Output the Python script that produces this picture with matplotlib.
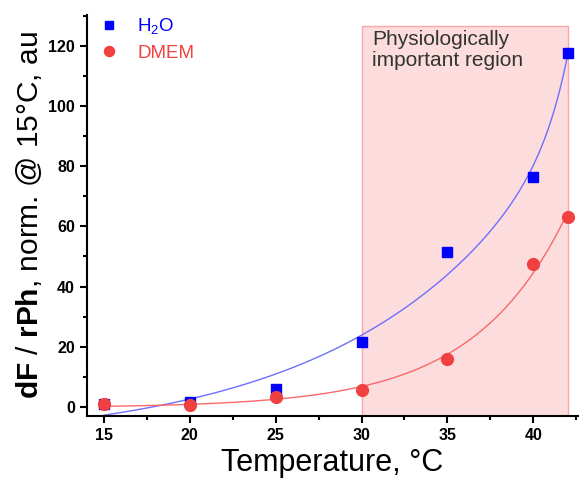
import numpy as np
import matplotlib
matplotlib.use('Agg')
import matplotlib.pyplot as plt
from matplotlib.patches import Rectangle
from matplotlib.ticker import MultipleLocator

plt.rcParams['font.family'] = ['Liberation Sans', 'DejaVu Sans']
plt.rcParams['mathtext.fontset'] = 'custom'
plt.rcParams['mathtext.rm'] = 'Liberation Sans'
plt.rcParams['mathtext.it'] = 'Liberation Sans:italic'
plt.rcParams['mathtext.bf'] = 'Liberation Sans:bold'

# data
temperature = [15, 20, 25, 30, 35, 40, 42]
h2o = [1.0, 1.6, 6.0, 21.5, 51.5, 76.5, 117.5]
dmem = [1.0, 0.7, 3.3, 5.5, 16.0, 47.5, 63.0]
region = (30, 42)


def design(x, ts):
    cols = [np.ones_like(x)] + [np.exp((x - 42) / t) for t in ts]
    return np.column_stack(cols)


def exp_fit(x, y, t_grids):
    # y = y0 + sum A_i*exp(x/t_i); grid over t_i, linear least squares for the rest
    x = np.asarray(x, float)
    y = np.asarray(y, float)
    best = None
    for ts in np.array(np.meshgrid(*t_grids)).reshape(len(t_grids), -1).T:
        M = design(x, ts)
        coef = np.linalg.lstsq(M, y, rcond=None)[0]
        err = np.sum((M @ coef - y) ** 2)
        if best is None or err < best[0]:
            best = (err, coef, ts)
    _, coef, ts = best
    return lambda xx: design(np.asarray(xx, float), ts) @ coef


fig = plt.figure(figsize=(5.79, 4.79), dpi=100)
ax = fig.add_axes([0.150, 0.1315, 0.848, 0.8372])

ax.add_patch(Rectangle((region[0], -3), region[1] - region[0], 129.5,
                       facecolor='#fcdcdc', edgecolor='#f8a8a8', lw=1, zorder=0))
ax.text(30.6, 125.3, 'Physiologically\nimportant region', fontsize=15,
        color='#333333', va='top', ha='left', linespacing=1.12)

xx = np.linspace(15, 42, 300)
fit_h2o = exp_fit(temperature, h2o, [np.linspace(3, 30, 136), np.linspace(1.3, 4, 28)])
fit_dmem = exp_fit(temperature, dmem, [np.linspace(2, 40, 381)])
ax.plot(xx, fit_h2o(xx), color='#6f6fff', lw=1, zorder=2)
ax.plot(xx, fit_dmem(xx), color='#f86a6a', lw=1, zorder=2)

ax.plot(temperature, h2o, 's', color='#0000ff', ms=7, label='H$_2$O', zorder=3)
ax.plot(temperature, dmem, 'o', color='#f04040', ms=8.5, label='DMEM', zorder=4)

ax.set_xlim(14.0, 42.6)
ax.set_ylim(-3, 130.2)
ax.xaxis.set_major_locator(MultipleLocator(5))
ax.xaxis.set_minor_locator(MultipleLocator(2.5))
ax.yaxis.set_major_locator(MultipleLocator(20))
ax.yaxis.set_minor_locator(MultipleLocator(10))
ax.tick_params(which='major', direction='out', length=5, width=1.5, labelsize=11.5)
ax.tick_params(which='minor', direction='out', length=3, width=1.5)
for lab in ax.get_xticklabels() + ax.get_yticklabels():
    lab.set_fontweight('bold')

for s in ['top', 'right']:
    ax.spines[s].set_visible(False)
for s in ['left', 'bottom']:
    ax.spines[s].set_linewidth(1.5)

ax.set_xlabel('Temperature, °C', fontsize=22, labelpad=4)
ax.set_ylabel(r'$\mathbf{dF}$ / $\mathbf{rPh}$, norm. @ 15°C, au', fontsize=21.5, labelpad=3)

ax.legend(loc='upper left', bbox_to_anchor=(-0.02, 1.03), frameon=False, fontsize=13.5,
          labelcolor='linecolor', handletextpad=0.5, borderaxespad=0.3,
          labelspacing=0.45, markerscale=0.85)

fig.savefig('out.png', dpi=100)
